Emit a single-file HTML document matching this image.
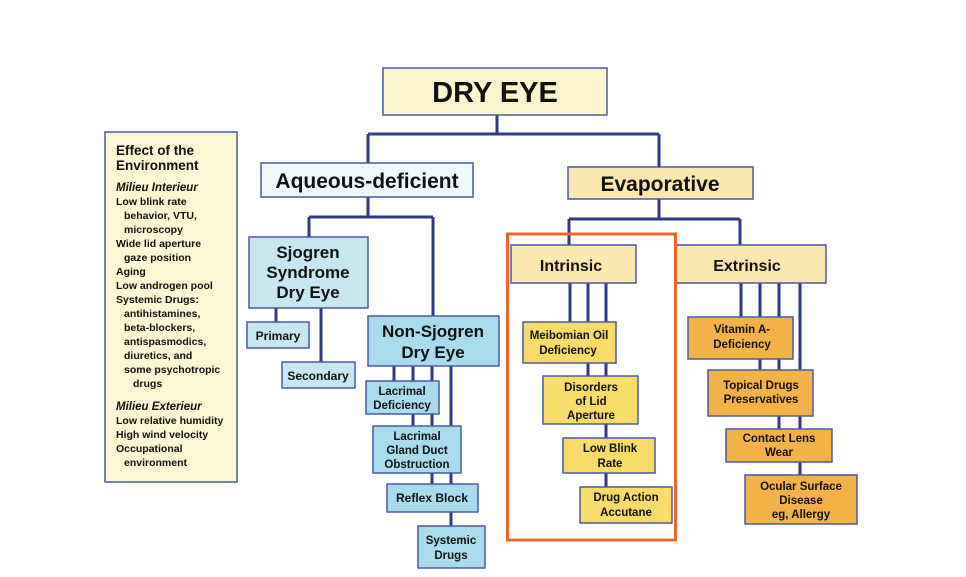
<!DOCTYPE html>
<html><head><meta charset="utf-8"><style>
html,body{margin:0;padding:0;background:#fff;}
svg{display:block;}
text{font-family:"Liberation Sans",sans-serif;font-weight:bold;fill:#111;text-anchor:middle;}
.b{stroke:#4a5aa0;stroke-width:1.5;}
.l{stroke:#2e3a87;stroke-width:3;fill:none;}
</style></head><body>
<svg width="966" height="577" viewBox="0 0 966 577" xmlns="http://www.w3.org/2000/svg">
<!-- connectors -->
<path class="l" d="M497 115V134M368 134H659M368 134V163M659 134V167"/>
<path class="l" d="M368 197V217M309 217H433M309 217V237M433 217V316"/>
<path class="l" d="M276 308V322M321 308V362"/>
<path class="l" d="M394 366V381M413 366V426M432 366V484M451 366V526"/>
<path class="l" d="M659 199V219M569 219H740M569 219V245M740 219V245"/>
<path class="l" d="M570 283V322M588 283V376M606 283V438M606 438V487"/>
<path class="l" d="M741 283V317M760 283V370M779 283V429M800 283V475"/>
<!-- boxes -->
<rect class="b" x="383" y="68" width="224" height="47" fill="#fbf5cf"/>
<text x="495" y="102" font-size="29">DRY EYE</text>
<rect class="b" x="261" y="163" width="212" height="34" fill="#eef8fb"/>
<text x="367" y="188" font-size="21">Aqueous-deficient</text>
<rect class="b" x="568" y="167" width="185" height="32" fill="#fae8b0"/>
<text x="660" y="191" font-size="21">Evaporative</text>
<rect class="b" x="249" y="237" width="119" height="71" fill="#c8e6f0"/>
<text x="308" y="258" font-size="17">Sjogren</text>
<text x="308" y="278" font-size="17">Syndrome</text>
<text x="308" y="298" font-size="17">Dry Eye</text>
<rect class="b" x="247" y="322" width="62" height="26" fill="#c8e6f0"/>
<text x="278" y="340" font-size="12">Primary</text>
<rect class="b" x="282" y="362" width="73" height="26" fill="#c8e6f0"/>
<text x="318" y="380" font-size="12">Secondary</text>
<rect class="b" x="368" y="316" width="131" height="50" fill="#a9dbec"/>
<text x="433" y="337" font-size="17">Non-Sjogren</text>
<text x="433" y="358" font-size="17">Dry Eye</text>
<rect class="b" x="366" y="381" width="73" height="33" fill="#a9dbec"/>
<text x="402" y="395" font-size="11.5">Lacrimal</text>
<text x="402" y="409" font-size="11.5">Deficiency</text>
<rect class="b" x="373" y="426" width="88" height="47" fill="#a9dbec"/>
<text x="417" y="440" font-size="11.5">Lacrimal</text>
<text x="417" y="454" font-size="11.5">Gland Duct</text>
<text x="417" y="468" font-size="11.5">Obstruction</text>
<rect class="b" x="387" y="484" width="91" height="28" fill="#a9dbec"/>
<text x="432" y="502" font-size="12">Reflex Block</text>
<rect class="b" x="418" y="526" width="67" height="42" fill="#a9dbec"/>
<text x="451" y="544" font-size="11.5">Systemic</text>
<text x="451" y="559" font-size="11.5">Drugs</text>
<rect class="b" x="511" y="245" width="125" height="38" fill="#fae8b0"/>
<text x="571" y="271" font-size="16">Intrinsic</text>
<rect class="b" x="676" y="245" width="150" height="38" fill="#fae8b0"/>
<text x="747" y="271" font-size="16">Extrinsic</text>
<rect class="b" x="523" y="322" width="93" height="41" fill="#f8dc6a"/>
<text x="569" y="339" font-size="11.5">Meibomian Oil</text>
<text x="568" y="354" font-size="11.5">Deficiency</text>
<rect class="b" x="543" y="376" width="95" height="48" fill="#f8dc6a"/>
<text x="591" y="391" font-size="11.5">Disorders</text>
<text x="591" y="405" font-size="11.5">of Lid</text>
<text x="591" y="419" font-size="11.5">Aperture</text>
<rect class="b" x="563" y="438" width="92" height="35" fill="#f8dc6a"/>
<text x="610" y="452" font-size="11.5">Low Blink</text>
<text x="610" y="467" font-size="11.5">Rate</text>
<rect class="b" x="580" y="487" width="92" height="36" fill="#f8dc6a"/>
<text x="626" y="501" font-size="11.5">Drug Action</text>
<text x="626" y="516" font-size="11.5">Accutane</text>
<rect class="b" x="688" y="317" width="105" height="42" fill="#f3b248"/>
<text x="742" y="333" font-size="11.5">Vitamin A-</text>
<text x="742" y="348" font-size="11.5">Deficiency</text>
<rect class="b" x="708" y="370" width="105" height="46" fill="#f3b248"/>
<text x="761" y="389" font-size="11.5">Topical Drugs</text>
<text x="761" y="403" font-size="11.5">Preservatives</text>
<rect class="b" x="726" y="429" width="106" height="33" fill="#f3b248"/>
<text x="779" y="442" font-size="11.5">Contact Lens</text>
<text x="779" y="456" font-size="11.5">Wear</text>
<rect class="b" x="745" y="475" width="112" height="49" fill="#f3b248"/>
<text x="801" y="490" font-size="11.5">Ocular Surface</text>
<text x="801" y="504" font-size="11.5">Disease</text>
<text x="801" y="518" font-size="11.5">eg, Allergy</text>
<!-- highlight -->
<rect x="507.5" y="234" width="168" height="306" fill="none" stroke="#f0642a" stroke-width="3"/>
<!-- left box -->
<rect class="b" x="105" y="132" width="132" height="350" fill="#fbf6d3"/>
<g style="text-anchor:start">
<text x="116" y="155" font-size="13.5" style="text-anchor:start">Effect of the</text>
<text x="116" y="170" font-size="13.5" style="text-anchor:start">Environment</text>
<g font-size="10.5">
<text x="116" y="191" font-style="italic" font-size="11.5" style="text-anchor:start">Milieu Interieur</text>
<text x="116" y="205" style="text-anchor:start">Low blink rate</text>
<text x="124" y="219" style="text-anchor:start">behavior, VTU,</text>
<text x="124" y="233" style="text-anchor:start">microscopy</text>
<text x="116" y="247" style="text-anchor:start">Wide lid aperture</text>
<text x="124" y="261" style="text-anchor:start">gaze position</text>
<text x="116" y="275" style="text-anchor:start">Aging</text>
<text x="116" y="289" style="text-anchor:start">Low androgen pool</text>
<text x="116" y="303" style="text-anchor:start">Systemic Drugs:</text>
<text x="124" y="317" style="text-anchor:start">antihistamines,</text>
<text x="124" y="331" style="text-anchor:start">beta-blockers,</text>
<text x="124" y="345" style="text-anchor:start">antispasmodics,</text>
<text x="124" y="359" style="text-anchor:start">diuretics, and</text>
<text x="124" y="373" style="text-anchor:start">some psychotropic</text>
<text x="133" y="387" style="text-anchor:start">drugs</text>
<text x="116" y="410" font-style="italic" font-size="11.5" style="text-anchor:start">Milieu Exterieur</text>
<text x="116" y="424" style="text-anchor:start">Low relative humidity</text>
<text x="116" y="438" style="text-anchor:start">High wind velocity</text>
<text x="116" y="452" style="text-anchor:start">Occupational</text>
<text x="124" y="466" style="text-anchor:start">environment</text>
</g></g>
</svg>
</body></html>
